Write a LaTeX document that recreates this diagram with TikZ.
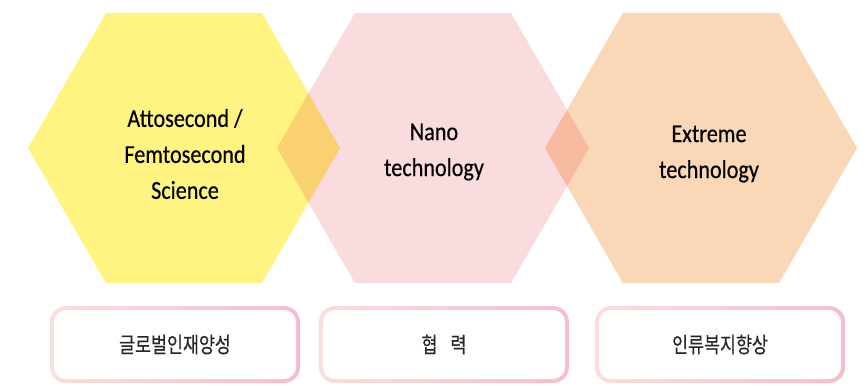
\documentclass[tikz,border=0pt]{standalone}
\usepackage{fontspec}
\setmainfont{Carlito}[FakeStretch=0.86,FakeBold=0.4]
\newfontfamily\kor{Noto Sans CJK KR}[FakeStretch=0.8,FakeBold=0.3]
\usetikzlibrary{positioning,shapes.geometric}

\begin{document}
\begin{tikzpicture}[x=0.03cm,y=-0.03cm,
  hexa/.style={regular polygon,regular polygon sides=6,minimum size=9.36cm,inner sep=0pt,draw=none},
  hexlabel/.style={align=center,inner sep=0pt,font=\fontsize{22}{30.7}\selectfont,text=black},
  goal/.style={rounded corners=0.48cm,minimum width=7.5cm,minimum height=2.31cm,
    left color=boxL,right color=boxR,text=black!85,font=\kor\fontsize{18.5}{20}\selectfont,
    path picture={\fill[white,rounded corners=0.36cm]
      ([shift={(4,4)}]path picture bounding box.north west) rectangle
      ([shift={(-4,-4)}]path picture bounding box.south east);}}]
\definecolor{hexyellow}{RGB}{255,243,130} \definecolor{hexpink}{RGB}{250,220,222}
\definecolor{hexorange}{RGB}{250,216,183}
\definecolor{boxL}{RGB}{250,222,222} \definecolor{boxR}{RGB}{244,190,200}
\useasboundingbox (0,0) rectangle (867,385);
% hexagons, overlaps by multiply
\begin{scope}[blend group=multiply]
\foreach \name/\x/\col in {atto/184/hexyellow,nano/433/hexpink,extreme/701/hexorange}
\node [hexa,fill=\col] (\name) at (\x,148) {};
\end{scope}
\node [hexlabel] (attotext) at (185,154) {Attosecond /\\Femtosecond\\Science};
\node [hexlabel] (nanotext) at (434,152) {Nano\\technology};
\node [hexlabel] (extremetext) at (709,154) {Extreme\\technology};
% goals
\node [goal] (global) at (175,344.5) {글로벌인재양성};
\node [goal] (coop) at (444,344.5) {협\hspace{0.6em}력};
\node [goal] (welfare) at (720,344.5) {인류복지향상};
\end{tikzpicture}
\end{document}
